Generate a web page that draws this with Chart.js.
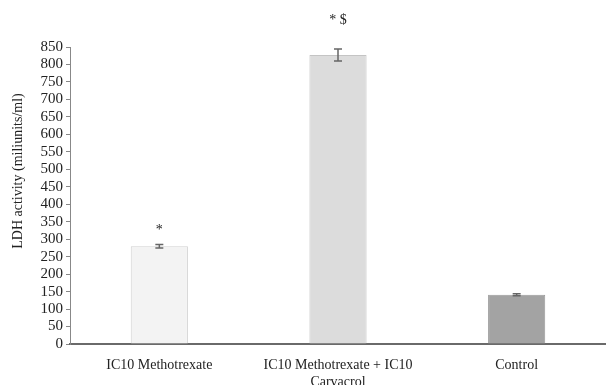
<!DOCTYPE html>
<html>
<head>
<meta charset="utf-8">
<script src="https://cdn.jsdelivr.net/npm/chart.js@4/dist/chart.umd.min.js"></script>
<style>
  body { margin: 0; background: #fff; }
</style>
</head>
<body>
<canvas id="barChart" width="606" height="385"></canvas>
<script>
var categories = [['IC10 Methotrexate'], ['IC10 Methotrexate + IC10', 'Carvacrol'], ['Control']];
var ldhValues = [280, 827, 141];
var ldhErrors = [5, 17, 3];
var sigMarks = ['*', '* $', ''];
var barColors = ['#f3f3f3', '#dcdcdc', '#a3a3a3'];
var barBorders = ['#d2d2d2', '#c4c4c4', '#999999'];
var yTitle = 'LDH activity (miliunits/ml)';

// error bars, significance marks and the y title
var errorBarPlugin = {
    id: 'errorBars',
    afterDatasetsDraw: function (chart) {
        var ctx = chart.ctx;
        var yScale = chart.scales.y;
        var meta = chart.getDatasetMeta(0);
        ctx.save();
        ctx.strokeStyle = '#666';
        ctx.lineWidth = 1.5;
        meta.data.forEach(function (bar, i) {
            var x = bar.x;
            var top = yScale.getPixelForValue(ldhValues[i] + ldhErrors[i]);
            var bottom = yScale.getPixelForValue(ldhValues[i] - ldhErrors[i]);
            ctx.beginPath();
            ctx.moveTo(x, top);
            ctx.lineTo(x, bottom);
            ctx.moveTo(x - 4, top);
            ctx.lineTo(x + 4, top);
            ctx.moveTo(x - 4, bottom);
            ctx.lineTo(x + 4, bottom);
            ctx.stroke();

            if (sigMarks[i]) {
                ctx.fillStyle = '#222';
                ctx.font = '14px "Liberation Serif"';
                ctx.textAlign = 'center';
                ctx.textBaseline = 'alphabetic';
                var gap = i == 1 ? 25 : 10;
                ctx.fillText(sigMarks[i], x, top - gap);
            }
        });

        // y title, a bit above the middle like the original
        ctx.translate(18, 171);
        ctx.rotate(-Math.PI / 2);
        ctx.fillStyle = '#222';
        ctx.font = '14px "Liberation Serif"';
        ctx.textAlign = 'center';
        ctx.textBaseline = 'middle';
        ctx.fillText(yTitle, 0, 0);
        ctx.restore();
    }
};

var barChartCanvas = document.getElementById('barChart').getContext('2d');

new Chart(barChartCanvas, {
    type: 'bar',
    data: {
        labels: categories,
        datasets: [{
            label: 'LDH activity',
            data: ldhValues,
            backgroundColor: barColors,
            borderColor: barBorders,
            borderWidth: 1,
            barPercentage: 0.32,
            categoryPercentage: 1
        }]
    },
    options: {
        responsive: false,
        animation: false,
        layout: { padding: { top: 47, right: 0, left: 0, bottom: 0 } },
        plugins: {
            legend: { display: false },
            tooltip: { enabled: false }
        },
        scales: {
            x: {
                grid: { display: false },
                border: { display: true, color: '#6a6a6a', width: 2 },
                ticks: {
                    color: '#222',
                    font: { family: 'Liberation Serif', size: 14 },
                    maxRotation: 0,
                    padding: 5
                },
                afterFit: function (scale) { scale.height = 41; }
            },
            y: {
                min: 0,
                max: 850,
                ticks: {
                    stepSize: 50,
                    autoSkip: false,
                    color: '#222',
                    font: { family: 'Liberation Serif', size: 15 },
                    padding: 3
                },
                grid: { drawOnChartArea: false, tickLength: 4, color: '#888' },
                border: { display: true, color: '#888', width: 1 },
                afterFit: function (scale) { scale.width = 70; }
            }
        }
    },
    plugins: [errorBarPlugin]
});
</script>
</body>
</html>
